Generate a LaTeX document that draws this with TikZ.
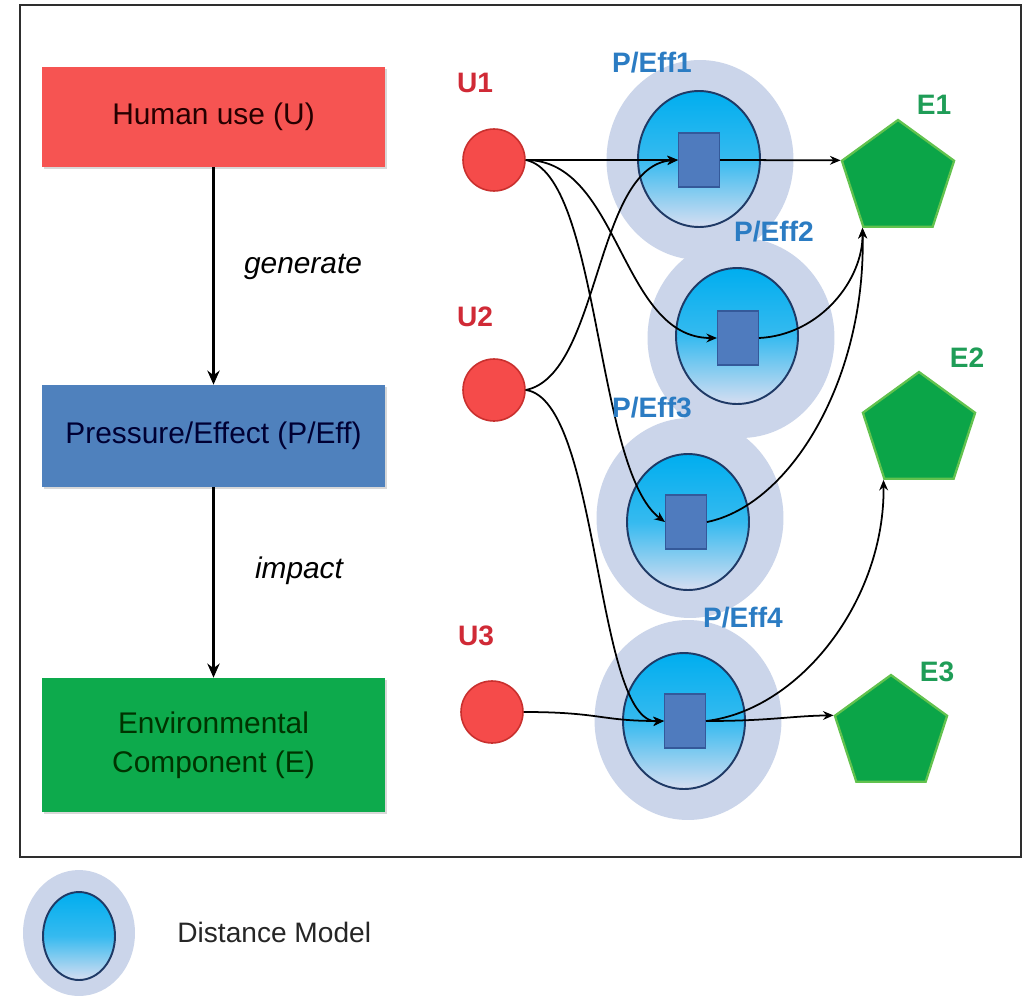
\documentclass[tikz,border=0pt]{standalone}
\usepackage{fontspec}
\setmainfont{Liberation Sans}
\usetikzlibrary{shapes.geometric,arrows.meta,shadows}
\definecolor{boxred}{HTML}{F65452}
\definecolor{boxblue}{HTML}{4F81BD}
\definecolor{boxgreen}{HTML}{0DAA4C}
\definecolor{ured}{HTML}{F54B4A}
\definecolor{uredd}{HTML}{C9302E}
\definecolor{egreen}{HTML}{0BA548}
\definecolor{egreenl}{HTML}{62C24E}
\definecolor{haloc}{HTML}{CBD5EA}
\definecolor{cyanc}{HTML}{00AEEF}
\definecolor{palec}{HTML}{D6DEF1}
\definecolor{navy}{HTML}{1F3A66}
\definecolor{sqc}{HTML}{4F7BBE}
\definecolor{sqd}{HTML}{34599A}
\definecolor{ulab}{HTML}{D02A36}
\definecolor{plab}{HTML}{2B7CC3}
\definecolor{elab}{HTML}{1F9D57}
\definecolor{framec}{HTML}{2E2E2E}
\tikzset{
  bigbox/.style={rectangle, minimum width=6.86cm, inner sep=0, align=center,
    font=\fontsize{17}{22}\selectfont,
    drop shadow={shadow xshift=1.2pt, shadow yshift=-1.2pt, opacity=0.3}},
  halo/.style={ellipse, fill=haloc, minimum width=3.74cm, minimum height=4cm, inner sep=0},
  dm/.style={ellipse, draw=navy, line width=1.1pt, top color=cyanc, bottom color=palec,
    middle color=cyanc!75!palec, minimum width=2.44cm, minimum height=2.72cm, inner sep=0},
  sq/.style={rectangle, fill=sqc, draw=sqd, line width=0.6pt, minimum width=0.82cm,
    minimum height=1.08cm, inner sep=0},
  unode/.style={circle, fill=ured, draw=uredd, line width=0.9pt, minimum size=1.24cm, inner sep=0},
  enode/.style={regular polygon, regular polygon sides=5, fill=egreen, draw=egreenl,
    line width=1.3pt, minimum size=2.36cm, inner sep=0},
  lab/.style={font=\fontsize{16}{18}\selectfont\bfseries, inner sep=0},
  edge/.style={line width=1pt, -{Stealth[length=6pt,width=5pt]}},
  flow/.style={line width=1.8pt, -{Stealth[length=8pt,width=7pt]}},
  verb/.style={font=\fontsize{17}{20}\selectfont\itshape, inner sep=0}
}
\begin{document}
\begin{tikzpicture}[x=0.02cm, y=-0.02cm]
\useasboundingbox (0,0) rectangle (1024,997);
\fill[white] (0,0) rectangle (1024,997);
\draw[framec, line width=1.6pt] (20,5) rectangle (1021,857);

% left hierarchy
\node[bigbox, fill=boxred, minimum height=2cm, text=black!85!red] (hu) at (213.5,117) {Human use (U)};
\node[bigbox, fill=boxblue, minimum height=2.04cm, text=black!80!blue] (pe) at (213.5,436) {Pressure/Effect (P/Eff)};
\node[bigbox, fill=boxgreen, minimum height=2.68cm, text=black!80!green] (ec) at (213.5,745) {Environmental\\Component (E)};
\draw[flow] (hu.south) -- (pe.north);
\draw[flow] (pe.south) -- (ec.north);
\node[verb] (gen) at (303,267) {generate};
\node[verb] (imp) at (299,571) {impact};

% distance model halos
\node[halo] (h1) at (700,160) {};
\node[halo] (h2) at (741,338) {};
\node[halo] (h3) at (690,518) {};
\node[halo] (h4) at (688,720) {};
\node[dm] (c1) at (699,159) {};
\node[dm] (c2) at (737,336) {};
\node[dm] (c3) at (688,522) {};
\node[dm] (c4) at (684,721) {};
\node[sq] (s1) at (699,160) {};
\node[sq] (s2) at (738,338) {};
\node[sq] (s3) at (686,522) {};
\node[sq] (s4) at (685,721) {};

% uses and environmental components
\node[unode] (u1) at (494,160) {};
\node[unode] (u2) at (494,390) {};
\node[unode] (u3) at (492,712) {};
\node[enode] (e1) at (898,179) {};
\node[enode] (e2) at (919,431) {};
\node[enode] (e3) at (891,734) {};

% connectors
\draw[edge] (u1.east) -- (s1.west);
\draw[edge] (u1.east) .. controls (620,160) and (620,338) .. (s2.west);
\draw[edge] (u1.east) .. controls (600,175) and (595,470) .. (s3.west);
\draw[edge] (u2.east) .. controls (600,375) and (595,165) .. (s1.west);
\draw[edge] (u2.east) .. controls (600,400) and (595,725) .. (s4.west);
\draw[edge] (u3.east) .. controls (600,712) and (600,721) .. (s4.west);
\draw[edge] (s1.east) -- (e1.corner 2);
\draw[edge] (s2.east) .. controls (820,335) and (863,280) .. (e1.corner 3);
\draw[edge] (s3.east) .. controls (790,505) and (866,380) .. (e1.corner 3);
\draw[edge] (s4.east) .. controls (800,710) and (885,600) .. (e2.corner 3);
\draw[edge] (s4.east) .. controls (770,721) and (790,716) .. (e3.corner 2);

% labels
\node[lab, text=ulab] (lu1) at (475,83) {U1};
\node[lab, text=ulab] (lu2) at (475,317) {U2};
\node[lab, text=ulab] (lu3) at (476,636) {U3};
\node[lab, text=plab] (lp1) at (652,63) {P/Eff1};
\node[lab, text=plab] (lp2) at (774,232) {P/Eff2};
\node[lab, text=plab] (lp3) at (652,408) {P/Eff3};
\node[lab, text=plab] (lp4) at (743,618) {P/Eff4};
\node[lab, text=elab] (le1) at (934,105) {E1};
\node[lab, text=elab] (le2) at (967,358) {E2};
\node[lab, text=elab] (le3) at (937,672) {E3};

% legend
\node[ellipse, fill=haloc, minimum width=2.24cm, minimum height=2.52cm, inner sep=0] (lh) at (79,933) {};
\node[dm, minimum width=1.44cm, minimum height=1.76cm] (lc) at (79,936) {};
\node[anchor=west, inner sep=0, font=\fontsize{16}{18}\selectfont, text=black!85] (lt) at (177,932) {Distance Model};
\end{tikzpicture}
\end{document}
